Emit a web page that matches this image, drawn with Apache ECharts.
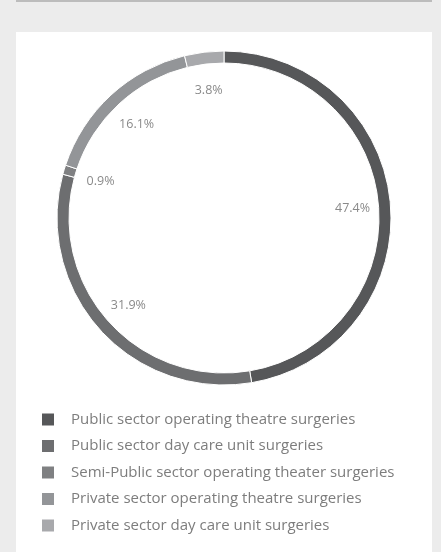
<!DOCTYPE html>
<html>
<head>
<meta charset="utf-8">
<script src="https://cdn.jsdelivr.net/npm/echarts@6/dist/echarts.min.js"></script>
<style>
  html, body { margin: 0; padding: 0; }
  body { width: 441px; height: 552px; background: #ececec; position: relative; overflow: hidden; }
  #topline { position: absolute; left: 16px; top: 0; width: 416px; height: 2px; background: #bcbcbc; }
  #card { position: absolute; left: 16px; top: 32px; width: 416px; height: 520px; background: #ffffff; }
  #chart { position: absolute; left: 0; top: 0; width: 441px; height: 552px; }
</style>
</head>
<body>
<div id="topline"></div>
<div id="card"></div>
<div id="chart"></div>
<script>
// Share of surgeries by sector and setting (percent)
const categories = [
  'Public sector operating theatre surgeries',
  'Public sector day care unit surgeries',
  'Semi-Public sector operating theater surgeries',
  'Private sector operating theatre surgeries',
  'Private sector day care unit surgeries'
];
const shares = [47.4, 31.9, 0.9, 16.1, 3.8];
const colors = ['#565759', '#6d6e70', '#7f8082', '#939598', '#a8a9ac'];

const ringData = categories.map((name, i) => ({
  name: name,
  value: shares[i],
  itemStyle: { color: colors[i] }
}));

const chart = echarts.init(document.getElementById('chart'), null, { renderer: 'canvas' });
chart.setOption({
  backgroundColor: 'transparent',
  animation: false,
  color: colors,
  legend: {
    orient: 'vertical',
    left: 42,
    top: 412,
    padding: 0,
    icon: 'rect',
    itemWidth: 12,
    itemHeight: 12,
    itemGap: 11.5,
    selectedMode: false,
    itemStyle: { borderWidth: 0 },
    textStyle: {
      fontFamily: 'Open Sans',
      fontSize: 15,
      lineHeight: 15,
      color: '#7d7d7d',
      padding: [0, 0, 0, 12]
    },
    data: categories
  },
  series: [
    {
      type: 'pie',
      center: [224, 218],
      radius: [155, 167],
      startAngle: 90,
      clockwise: true,
      silent: true,
      itemStyle: { borderColor: '#ffffff', borderWidth: 1 },
      label: { show: false },
      labelLine: { show: false },
      data: ringData
    },
    {
      // transparent companion ring that only positions the percentage labels
      type: 'pie',
      center: [224, 219],
      radius: [92, 160],
      startAngle: 90,
      clockwise: true,
      silent: true,
      legendHoverLink: false,
      itemStyle: { color: 'transparent', borderWidth: 0 },
      label: {
        show: true,
        position: 'inside',
        formatter: p => p.value.toFixed(1) + '%',
        fontFamily: 'Open Sans',
        fontSize: 12.5,
        color: '#8a8a8a'
      },
      labelLine: { show: false },
      data: categories.map((name, i) => ({ name: name, value: shares[i] }))
    }
  ]
});
</script>
</body>
</html>
